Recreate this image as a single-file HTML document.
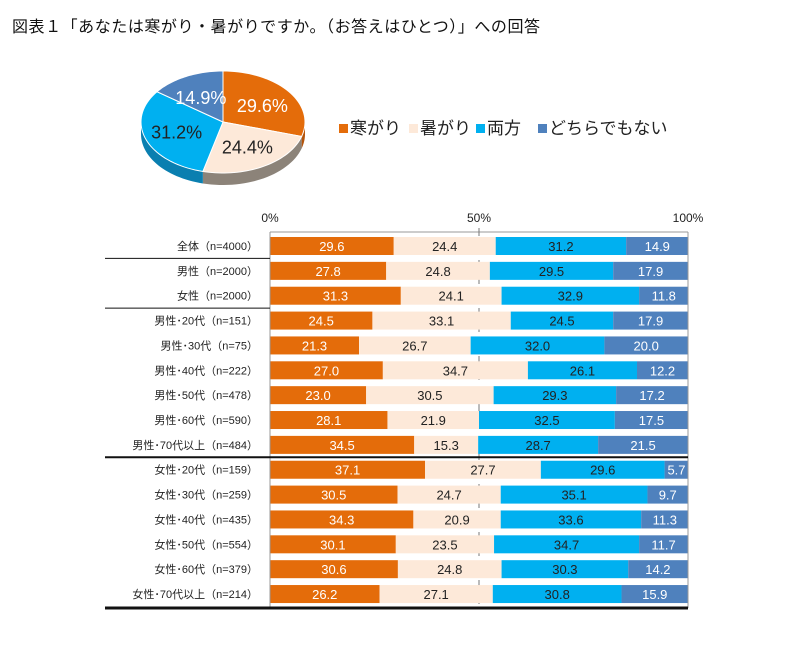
<!DOCTYPE html>
<html><head><meta charset="utf-8">
<style>
body{margin:0;background:#fff;font-family:"Liberation Sans","Noto Sans CJK JP",sans-serif;}
#wrap{position:relative;width:810px;height:654px;overflow:hidden;}
</style></head>
<body>
<div id="wrap">
<svg id="svg" width="810" height="654" xmlns="http://www.w3.org/2000/svg">
<text x="12" y="32" font-size="16" fill="#111" textLength="528" lengthAdjust="spacing">図表１「あなたは寒がり・暑がりですか。（お答えはひとつ）」への回答</text>
</svg>
</div>
<script>
const seriesNames=["寒がり","暑がり","両方","どちらでもない"];
const seriesColors=["#E46C0A","#FDE9D9","#00B0F0","#4F81BD"];
const sideColors=["#B4540A","#8C8379","#0A7FB0","#3A5F8E"];
const textColors=["#fff","#222","#222","#fff"];
const pieValues=[29.6,24.4,31.2,14.9];
const pieLabels=["29.6%","24.4%","31.2%","14.9%"];
const categories=["全体（n=4000）","男性（n=2000）","女性（n=2000）","男性･20代（n=151）","男性･30代（n=75）","男性･40代（n=222）","男性･50代（n=478）","男性･60代（n=590）","男性･70代以上（n=484）","女性･20代（n=159）","女性･30代（n=259）","女性･40代（n=435）","女性･50代（n=554）","女性･60代（n=379）","女性･70代以上（n=214）"];
const samugari=[29.6,27.8,31.3,24.5,21.3,27.0,23.0,28.1,34.5,37.1,30.5,34.3,30.1,30.6,26.2];
const atsugari=[24.4,24.8,24.1,33.1,26.7,34.7,30.5,21.9,15.3,27.7,24.7,20.9,23.5,24.8,27.1];
const ryoho=[31.2,29.5,32.9,24.5,32.0,26.1,29.3,32.5,28.7,29.6,35.1,33.6,34.7,30.3,30.8];
const dochira=[14.9,17.9,11.8,17.9,20.0,12.2,17.2,17.5,21.5,5.7,9.7,11.3,11.7,14.2,15.9];
const tickVals=[0,50,100];
const tickLabels=["0%","50%","100%"];

const svg=document.getElementById('svg');
const NS="http://www.w3.org/2000/svg";
function mk(tag,attrs,parent){const e=document.createElementNS(NS,tag);for(const k in attrs)e.setAttribute(k,attrs[k]);(parent||svg).appendChild(e);return e;}

const cx=223,cy=122,rx=82,ry=51,depth=12;
const pieG=mk('g',{});


const tot=pieValues.reduce((a,b)=>a+b,0);
function pt(a,dy){return [cx+rx*Math.sin(a),cy-ry*Math.cos(a)+(dy||0)];}
let acc=0;const angs=[];
pieValues.forEach(v=>{const a0=acc/tot*2*Math.PI;acc+=v;angs.push([a0,acc/tot*2*Math.PI]);});
angs.forEach(([a0,a1],i)=>{
  const s=Math.max(a0,Math.PI/2),e=Math.min(a1,3*Math.PI/2);
  if(e<=s)return;
  let d="";const n=30;
  for(let k=0;k<=n;k++){const p=pt(s+(e-s)*k/n);d+=(k?"L":"M")+p[0]+","+p[1];}
  for(let k=n;k>=0;k--){const p=pt(s+(e-s)*k/n,depth);d+="L"+p[0]+","+p[1];}
  const side=mk('path',{d:d+"Z",fill:sideColors[i]},pieG);
  
  
});
angs.forEach(([a0,a1],i)=>{
  let d="M"+cx+","+cy;const n=40;
  for(let k=0;k<=n;k++){const p=pt(a0+(a1-a0)*k/n);d+="L"+p[0]+","+p[1];}
  const sl=mk('path',{d:d+"Z",fill:seriesColors[i],stroke:"#fff","stroke-width":1},pieG);
  
  
  const m=(a0+a1)/2;
  const lx=cx+rx*0.6*Math.sin(m), ly=cy-ry*0.55*Math.cos(m)+7;
  const t=mk('text',{x:lx,y:ly,"font-size":18,"text-anchor":"middle",fill:(i==0||i==3)?"#fff":"#222"},pieG);
  t.textContent=pieLabels[i];
  
  
});
const lg=mk('g',{});


const legendX=[339,409,476,538];
seriesNames.forEach((nm,i)=>{
  const lxp=legendX[i];
  const r=mk('rect',{x:lxp,y:124,width:9,height:9,fill:seriesColors[i]},lg);
  
  
  const t=mk('text',{x:lxp+11,y:134,"font-size":17,fill:"#222"},lg);
  t.textContent=nm;
  
  
});

const x0=270,W=418,y0=246,step=24.86,bh=18;
const X=v=>x0+v/100*W;
const Y=i=>y0+i*step;
tickVals.forEach((v,i)=>{
  const t=mk('text',{x:X(v),y:222,"font-size":12,"text-anchor":"middle",fill:"#222"});
  t.textContent=tickLabels[i];
  
  
});
mk('line',{x1:x0,y1:232,x2:X(100),y2:232,stroke:"#999","stroke-width":1});
const g50=mk('line',{x1:X(50),y1:228,x2:X(50),y2:608,stroke:"#777","stroke-width":1,"stroke-dasharray":"8,8"});


const series=[samugari,atsugari,ryoho,dochira];
categories.forEach((c,i)=>{
  const t=mk('text',{x:258,y:Y(i)+4,"font-size":11,"text-anchor":"end",fill:"#222"});
  t.textContent=c;
  
  
  let a=0;
  series.forEach((s,k)=>{
    const v=s[i];
    const r=mk('rect',{x:X(a),y:Y(i)-bh/2,width:X(a+v)-X(a),height:bh,fill:seriesColors[k]});
    
    
    const tx=mk('text',{x:(X(a)+X(a+v))/2,y:Y(i)+5,"font-size":13,"text-anchor":"middle",fill:textColors[k]});
    tx.textContent=v.toFixed(1);
    
    
    a+=v;
  });
});
mk('line',{x1:x0,y1:232,x2:x0,y2:608,stroke:"#999","stroke-width":1});
mk('line',{x1:X(100),y1:232,x2:X(100),y2:608,stroke:"#999","stroke-width":1});
const seps=[[Y(0)+step/2,1,270],[Y(2)+step/2,1,270],[Y(8)+step/2,2,X(100)],[608,3,X(100)]];
seps.forEach(([y,w,xe])=>{
  const l=mk('line',{x1:105,y1:y,x2:xe,y2:y,stroke:"#111","stroke-width":w});
  
  
});
</script>
</body></html>
